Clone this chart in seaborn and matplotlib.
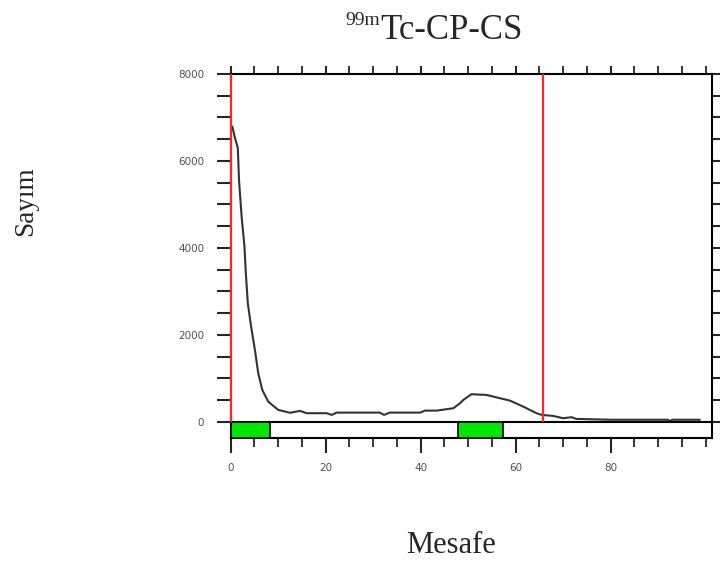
import numpy as np
import seaborn as sns
import matplotlib.pyplot as plt
from matplotlib.ticker import MultipleLocator

# radio-TLC scan
dist = [0.35, 0.9, 1.5, 1.75, 2.3, 2.9, 3.15, 3.6, 4.3, 5.1, 5.8, 6.65, 7.9,
        10.0, 12.5, 14.6, 16.0, 20.2, 21.3, 22.3, 31.4, 32.3, 33.5, 39.9,
        40.9, 43.4, 46.9, 48.3, 49.0, 50.7, 53.9, 56.7, 58.8, 61.6, 64.4,
        65.5, 67.9, 70.0, 71.8, 72.8, 80.0, 92.0, 92.5, 93.0, 98.8]
count = [6790, 6530, 6300, 5560, 4720, 4030, 3490, 2730, 2190, 1655, 1120,
         736, 467, 276, 210, 253, 200, 200, 161, 214, 214, 161, 214, 214,
         260, 260, 315, 430, 506, 637, 620, 545, 490, 352, 200, 161, 138,
         85, 108, 69, 50, 50, 20, 50, 50]

# integration regions (green) and origin / front markers (red)
band_start = [0.0, 47.8]
band_end = [8.2, 57.4]
marker_x = [0.0, 65.8]

xticks = [0, 20, 40, 60, 80]
yticks = [0, 2000, 4000, 6000, 8000]

sns.set_style('ticks')
plt.rcParams['font.family'] = ['DejaVu Sans']

fig = plt.figure(figsize=(7.21, 5.61), dpi=100)
ax = fig.add_axes([230.7/721, 1-438/561, (711.7-230.7)/721, (438-74)/561])

sns.lineplot(x=dist, y=count, ax=ax, color='#333333', lw=1.5)

ax.axhline(0, color='black', lw=1.5, zorder=3)
ax.vlines(marker_x, 0, 8000, color='#ff2525', lw=1.6, zorder=5, clip_on=False)
widths = [e - s for s, e in zip(band_start, band_end)]
ax.bar(band_start, 370, width=widths, bottom=-370, align='edge',
       color='#00e600', edgecolor='black', lw=1.2, zorder=3)

ax.set_xlim(0, 101.3)
ax.set_ylim(-370, 8000)
ax.set_xticks(xticks)
ax.set_yticks(yticks)
ax.xaxis.set_minor_locator(MultipleLocator(5))
ax.yaxis.set_minor_locator(MultipleLocator(500))

for s in ax.spines.values():
    s.set_linewidth(1.5)
    s.set_color('black')

ax.tick_params(axis='x', which='major', direction='out', length=11, width=1.5,
               labelsize=7.5, labelcolor='#505050', pad=7, top=True)
ax.tick_params(axis='x', which='minor', direction='out', length=6.5, width=1.3,
               top=True)
ax.tick_params(axis='y', which='both', direction='out', length=10, width=1.5,
               labelsize=7.5, labelcolor='#505050', pad=9, right=True)
ax.set_xlabel('')
ax.set_ylabel('')
# shorter ticks on top / right edges
for t in ax.xaxis.get_major_ticks() + ax.xaxis.get_minor_ticks():
    t.tick2line.set_markersize(6)
for t in ax.yaxis.get_major_ticks() + ax.yaxis.get_minor_ticks():
    t.tick2line.set_markersize(6)

serif = ['Liberation Serif', 'DejaVu Serif']
fig.text(0.527, 0.946, 'Tc-CP-CS', family=serif, fontsize=25, ha='left', va='center')
fig.text(0.527, 0.964, '99m', family=serif, fontsize=14, ha='right', va='center')
fig.text(0.625, 0.028, 'Mesafe', family=serif, fontsize=22, ha='center', va='center')
fig.text(0.035, 0.642, 'Sayım', family=serif, fontsize=19.5, ha='center', va='center',
         rotation=90)

fig.savefig('out.png', dpi=100)
